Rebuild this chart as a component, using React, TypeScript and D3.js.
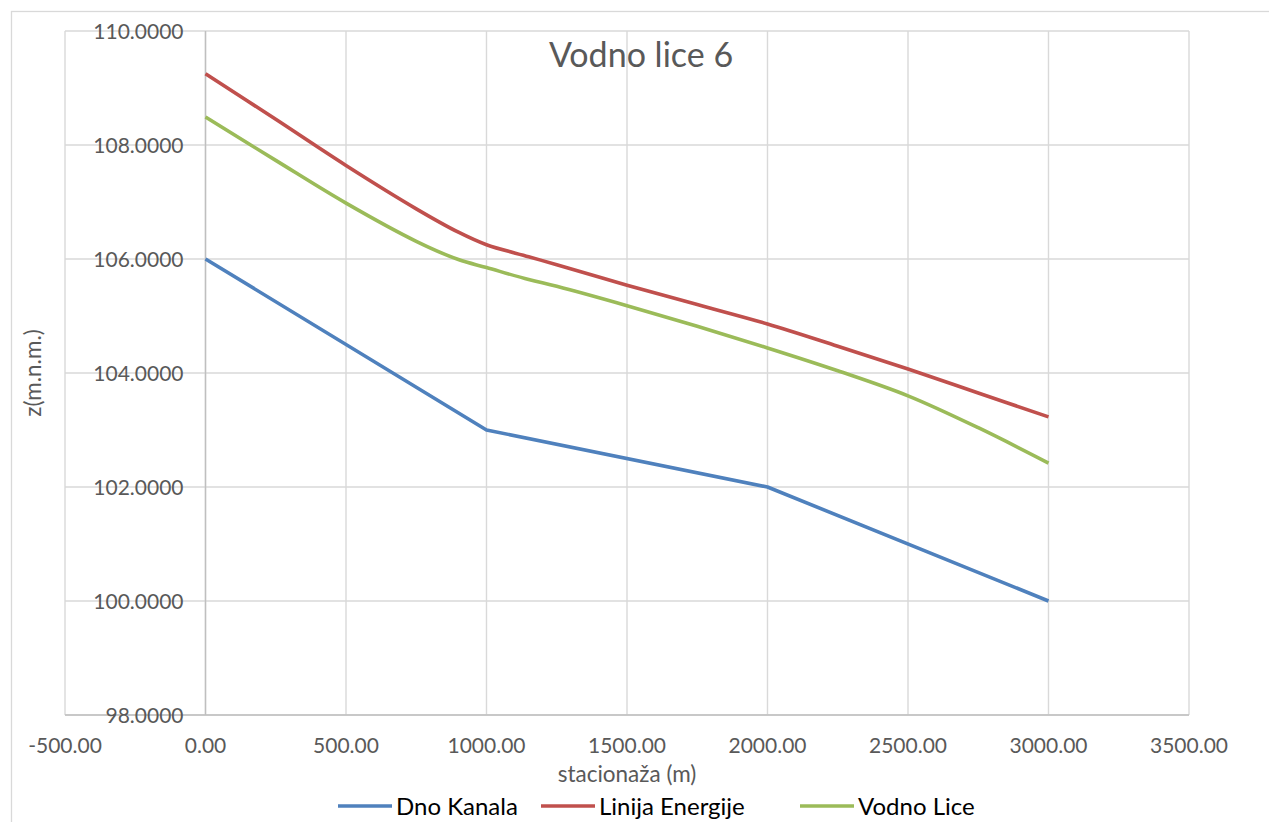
import React, { useEffect, useRef } from "react";
import * as d3 from "d3";

// stacionaža (m) / kota (m.n.m.)
const dnoX = [0, 1000, 2000, 3000];
const dnoZ = [106.0, 103.0, 102.0, 100.0];

const energijaX = [0, 250, 500, 750, 900, 1000, 1150, 1250, 1500, 1750, 2000, 2250, 2500, 2750, 3000];
const energijaZ = [109.25, 108.45, 107.64, 106.88, 106.47, 106.25, 106.04, 105.9, 105.54, 105.2, 104.86, 104.47, 104.07, 103.65, 103.23];

const liceX = [0, 250, 500, 750, 900, 1000, 1150, 1250, 1500, 1750, 2000, 2250, 2500, 2750, 3000];
const liceZ = [108.49, 107.73, 106.98, 106.31, 105.99, 105.85, 105.64, 105.52, 105.18, 104.82, 104.44, 104.04, 103.6, 103.04, 102.42];

const xTicks = [-500, 0, 500, 1000, 1500, 2000, 2500, 3000, 3500];
const yTicks = [98, 100, 102, 104, 106, 108, 110];

const seriesNames = ["Dno Kanala", "Linija Energije", "Vodno Lice"];
const seriesColors = ["#4f81bd", "#c0504d", "#9bbb59"];

const App: React.FC = () => {
  const svgRef = useRef<SVGSVGElement | null>(null);

  useEffect(() => {
    const width = 1269;
    const height = 822;
    const margin = { top: 31, right: 80, bottom: 107, left: 65 };
    const font = "Lato, 'Open Sans', sans-serif";
    const grey = "#595959";

    const svg = d3.select(svgRef.current);
    svg.selectAll("*").remove();
    svg.attr("width", width).attr("height", height);

    const x = d3
      .scaleLinear()
      .domain([-500, 3500])
      .range([margin.left, width - margin.right]);

    const y = d3
      .scaleLinear()
      .domain([98, 110])
      .range([height - margin.bottom, margin.top]);

    // chart border
    svg
      .append("rect")
      .attr("x", 11.5)
      .attr("y", 11.5)
      .attr("width", 1300)
      .attr("height", 900)
      .attr("fill", "white")
      .attr("stroke", "#d9d9d9")
      .attr("stroke-width", 1.3);

    // Gridlines
    const grid = svg.append("g").attr("stroke", "#d9d9d9").attr("stroke-width", 1.4);
    grid
      .selectAll("line.v")
      .data(xTicks)
      .join("line")
      .attr("x1", d => x(d))
      .attr("x2", d => x(d))
      .attr("y1", y(110))
      .attr("y2", y(98));
    grid
      .selectAll("line.h")
      .data(yTicks)
      .join("line")
      .attr("x1", x(-500))
      .attr("x2", x(3500))
      .attr("y1", d => y(d))
      .attr("y2", d => y(d));

    // axis lines
    svg
      .append("line")
      .attr("x1", x(0))
      .attr("x2", x(0))
      .attr("y1", y(110))
      .attr("y2", y(98))
      .attr("stroke", "#bfbfbf")
      .attr("stroke-width", 1.4);
    svg
      .append("line")
      .attr("x1", x(-500))
      .attr("x2", x(3500))
      .attr("y1", y(98))
      .attr("y2", y(98))
      .attr("stroke", "#bfbfbf")
      .attr("stroke-width", 1.4);

    // Y labels
    svg
      .append("g")
      .selectAll("text")
      .data(yTicks)
      .join("text")
      .attr("x", x(0) - 22)
      .attr("y", d => y(d) + 8)
      .attr("text-anchor", "end")
      .attr("font-family", font)
      .attr("font-size", 21)
      .attr("fill", grey)
      .text(d => d.toFixed(4));

    // X labels
    svg
      .append("g")
      .selectAll("text")
      .data(xTicks)
      .join("text")
      .attr("x", d => x(d))
      .attr("y", 753)
      .attr("text-anchor", "middle")
      .attr("font-family", font)
      .attr("font-size", 21)
      .attr("fill", grey)
      .text(d => d.toFixed(2));

    // Lines
    const series = [
      { xs: dnoX, zs: dnoZ, curve: d3.curveLinear },
      { xs: energijaX, zs: energijaZ, curve: d3.curveCatmullRom.alpha(0.5) },
      { xs: liceX, zs: liceZ, curve: d3.curveCatmullRom.alpha(0.5) },
    ];
    series.forEach((s, i) => {
      const pts: [number, number][] = s.xs.map((v, j) => [v, s.zs[j]]);
      const line = d3
        .line<[number, number]>()
        .x(d => x(d[0]))
        .y(d => y(d[1]))
        .curve(s.curve);
      svg
        .append("path")
        .datum(pts)
        .attr("d", line)
        .attr("fill", "none")
        .attr("stroke", seriesColors[i])
        .attr("stroke-width", 3.6)
        .attr("stroke-linejoin", "round");
    });

    // Title
    svg
      .append("text")
      .attr("x", 641)
      .attr("y", 67)
      .attr("text-anchor", "middle")
      .attr("font-family", font)
      .attr("font-size", 34)
      .attr("fill", grey)
      .text("Vodno lice 6");

    // Axis titles
    svg
      .append("text")
      .attr("x", (x(-500) + x(3500)) / 2)
      .attr("y", 782)
      .attr("text-anchor", "middle")
      .attr("font-family", font)
      .attr("font-size", 22.5)
      .attr("fill", grey)
      .text("stacionaža (m)");

    svg
      .append("text")
      .attr("transform", `translate(41,${(y(98) + y(110)) / 2}) rotate(-90)`)
      .attr("text-anchor", "middle")
      .attr("font-family", font)
      .attr("font-size", 22.5)
      .attr("fill", grey)
      .text("z(m.n.m.)");

    // Legend
    const legendX = [338, 541, 800];
    const legend = svg.append("g");
    seriesNames.forEach((name, i) => {
      legend
        .append("line")
        .attr("x1", legendX[i])
        .attr("x2", legendX[i] + 54)
        .attr("y1", 806)
        .attr("y2", 806)
        .attr("stroke", seriesColors[i])
        .attr("stroke-width", 3.6);
      legend
        .append("text")
        .attr("x", legendX[i] + 58)
        .attr("y", 815)
        .attr("font-family", font)
        .attr("font-size", 24)
        .attr("fill", "black")
        .text(name);
    });
  }, []);

  return <svg ref={svgRef} style={{ position: "absolute", left: 0, top: 0 }}></svg>;
};

export default App;
